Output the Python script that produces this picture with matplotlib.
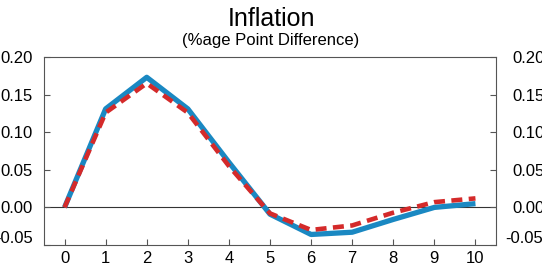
import matplotlib
matplotlib.use("Agg")
import matplotlib.pyplot as plt
from matplotlib.transforms import ScaledTranslation

plt.rcParams['font.family'] = ['Liberation Sans', 'DejaVu Sans']

quarters = [0, 1, 2, 3, 4, 5, 6, 7, 8, 9, 10]
series_solid = [0.0, 0.131, 0.173, 0.131, 0.060, -0.009, -0.036, -0.033, -0.016, 0.000, 0.005]
series_dashed = [0.0, 0.126, 0.165, 0.126, 0.055, -0.008, -0.030, -0.024, -0.007, 0.007, 0.012]
yticks = [-0.05, 0.0, 0.05, 0.10, 0.15, 0.20]
ytick_labels = ["-0.05", "0.00", "0.05", "0.10", "0.15", "0.20"]

fig = plt.figure(figsize=(5.42, 2.67), dpi=100)
ax = fig.add_axes([44/542, 1-245/267, 452/542, 188/267])

ax.axhline(0, color='#333333', lw=0.8, zorder=1)
ax.plot(quarters, series_solid, color='#1a88c2', lw=3.8, solid_capstyle='butt', zorder=2)
ln, = ax.plot(quarters, series_dashed, color='#d42a2a', lw=3.3, zorder=3)
ln.set_dashes([2.4, 1.4])

ax.set_xlim(-0.5, 10.5)
ax.set_ylim(-0.0497, 0.20)
ax.set_xticks(quarters)
ax.set_xticklabels([str(q) for q in quarters])
ax.set_yticks(yticks)
ax.set_yticklabels(ytick_labels)
ax.tick_params(axis='x', direction='in', length=4, pad=4, labelsize=12, color='#555555')
ax.tick_params(axis='y', direction='in', length=4, pad=8, labelsize=12, color='#555555',
               right=True, labelright=True)
for sp in ax.spines.values():
    sp.set_color('#555555')
    sp.set_linewidth(0.8)

# shift right labels a bit further out, and lift the bottom labels
ticks = ax.yaxis.get_major_ticks()
for i, t in enumerate(ticks):
    dy = 0.08 if i == 0 else 0
    dx2 = -0.015 if i == 0 else 0.055
    t.label1.set_transform(t.label1.get_transform() + ScaledTranslation(0, dy, fig.dpi_scale_trans))
    t.label2.set_transform(t.label2.get_transform() + ScaledTranslation(dx2, dy, fig.dpi_scale_trans))

fig.text(0.5, 1-19/267, "Inflation", ha='center', va='center', fontsize=18)
fig.text(0.5, 1-40/267, "(%age Point Difference)", ha='center', va='center', fontsize=12)

fig.savefig("out.png", dpi=100)
